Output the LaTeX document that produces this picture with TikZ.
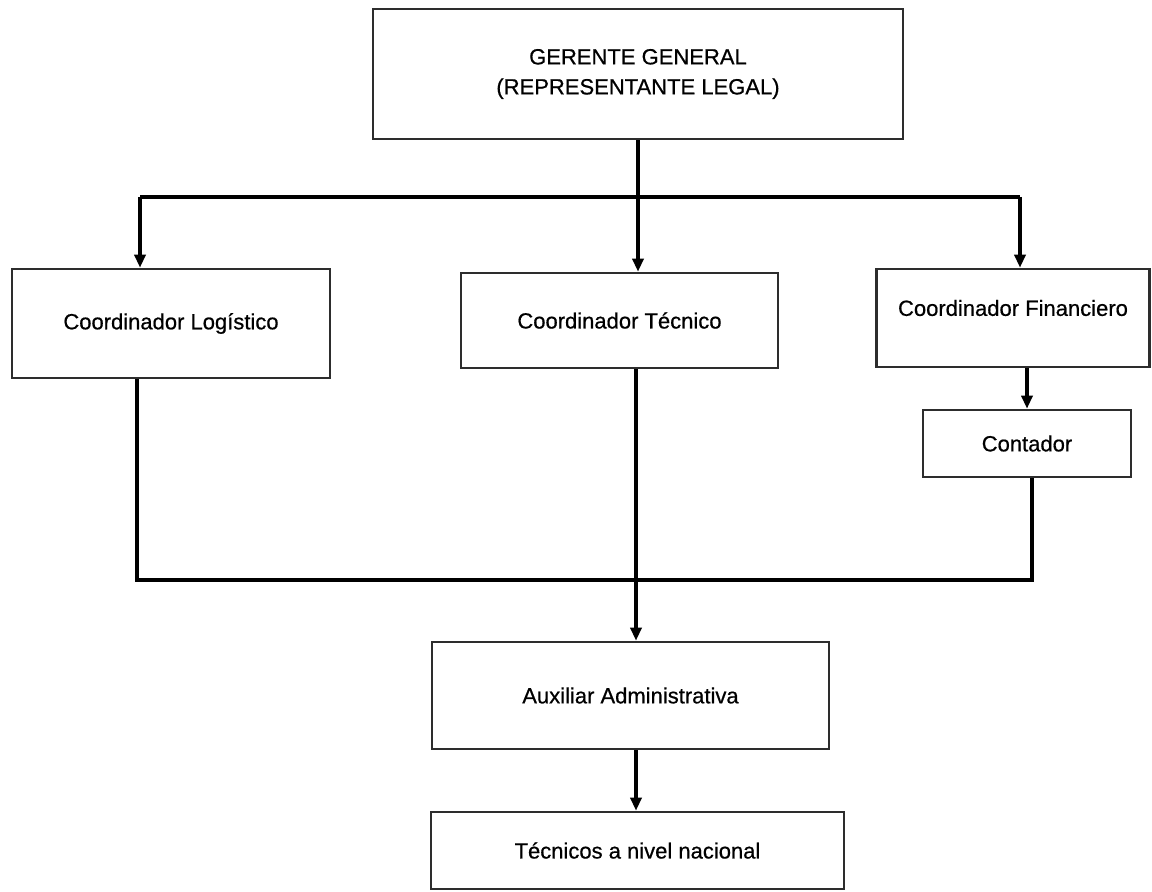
\documentclass[tikz,border=0pt]{standalone}
\usepackage{fontspec}
\setmainfont[FakeBold=0.6]{Liberation Sans}
\newfontfamily\boxfont[FakeBold=0.6]{Liberation Sans}
\usepackage{tikz}
\usetikzlibrary{arrows.meta,positioning,calc}
\definecolor{Edge}{RGB}{45,45,45}

\begin{document}
\begin{tikzpicture}[x=0.5pt,y=-0.5pt,
    box/.style={draw=Edge,line width=1.3pt,fill=white,inner sep=0pt,
      font=\boxfont\fontsize{11}{15}\selectfont,align=center},
    conn/.style={line width=1.6pt,black},
    arr/.style={conn,-{Triangle[length=6.5pt,width=5.5pt]}}]
  \useasboundingbox (0,0) rectangle (1152,892);
  % boxes
  \node[box,minimum width=265pt,minimum height=65pt] (gerente) at (638,74)
    {GERENTE GENERAL\\(REPRESENTANTE LEGAL)};
  \node[box,minimum width=159pt,minimum height=54.5pt] (logistico) at (171,323.5)
    {Coordinador Log\'istico};
  \node[box,minimum width=158.5pt,minimum height=47.5pt] (tecnico) at (619.5,320.5)
    {Coordinador T\'ecnico};
  \node[box,minimum width=136.5pt,minimum height=49pt] (financiero) at (1013,318) {};
  \node[font=\boxfont\fontsize{11}{15}\selectfont] (financieroTxt) at (1013,308)
    {Coordinador Financiero};
  \node[box,minimum width=104pt,minimum height=33.5pt] (contador) at (1027,443.5)
    {Contador};
  \node[box,minimum width=198.5pt,minimum height=53.5pt] (auxiliar) at (630.5,695.5)
    {Auxiliar Administrativa};
  \node[box,minimum width=206.5pt,minimum height=38.5pt] (tecnicos) at (637.5,850.5)
    {T\'ecnicos a nivel nacional};
  % upper bus
  \coordinate (busL) at (140,197);
  \coordinate (busR) at (1020,197);
  \draw[arr] (gerente.south) -- (gerente.south |- tecnico.north);
  \draw[conn] (busL) -- (busR);
  \draw[arr] (busL) -- (busL |- logistico.north);
  \draw[arr] (busR) -- (busR |- financiero.north);
  \draw[arr] (contador.north |- financiero.south) -- (contador.north);
  % lower bus
  \coordinate (lowL) at (137,580);
  \coordinate (lowR) at (1032,580);
  \coordinate (mid) at (636,580);
  \draw[conn] (lowL |- logistico.south) -- (lowL) -- (lowR) -- (lowR |- contador.south);
  \draw[arr] (mid |- tecnico.south) -- (mid |- auxiliar.north);
  \draw[arr] (mid |- auxiliar.south) -- (mid |- tecnicos.north);
\end{tikzpicture}
\end{document}
